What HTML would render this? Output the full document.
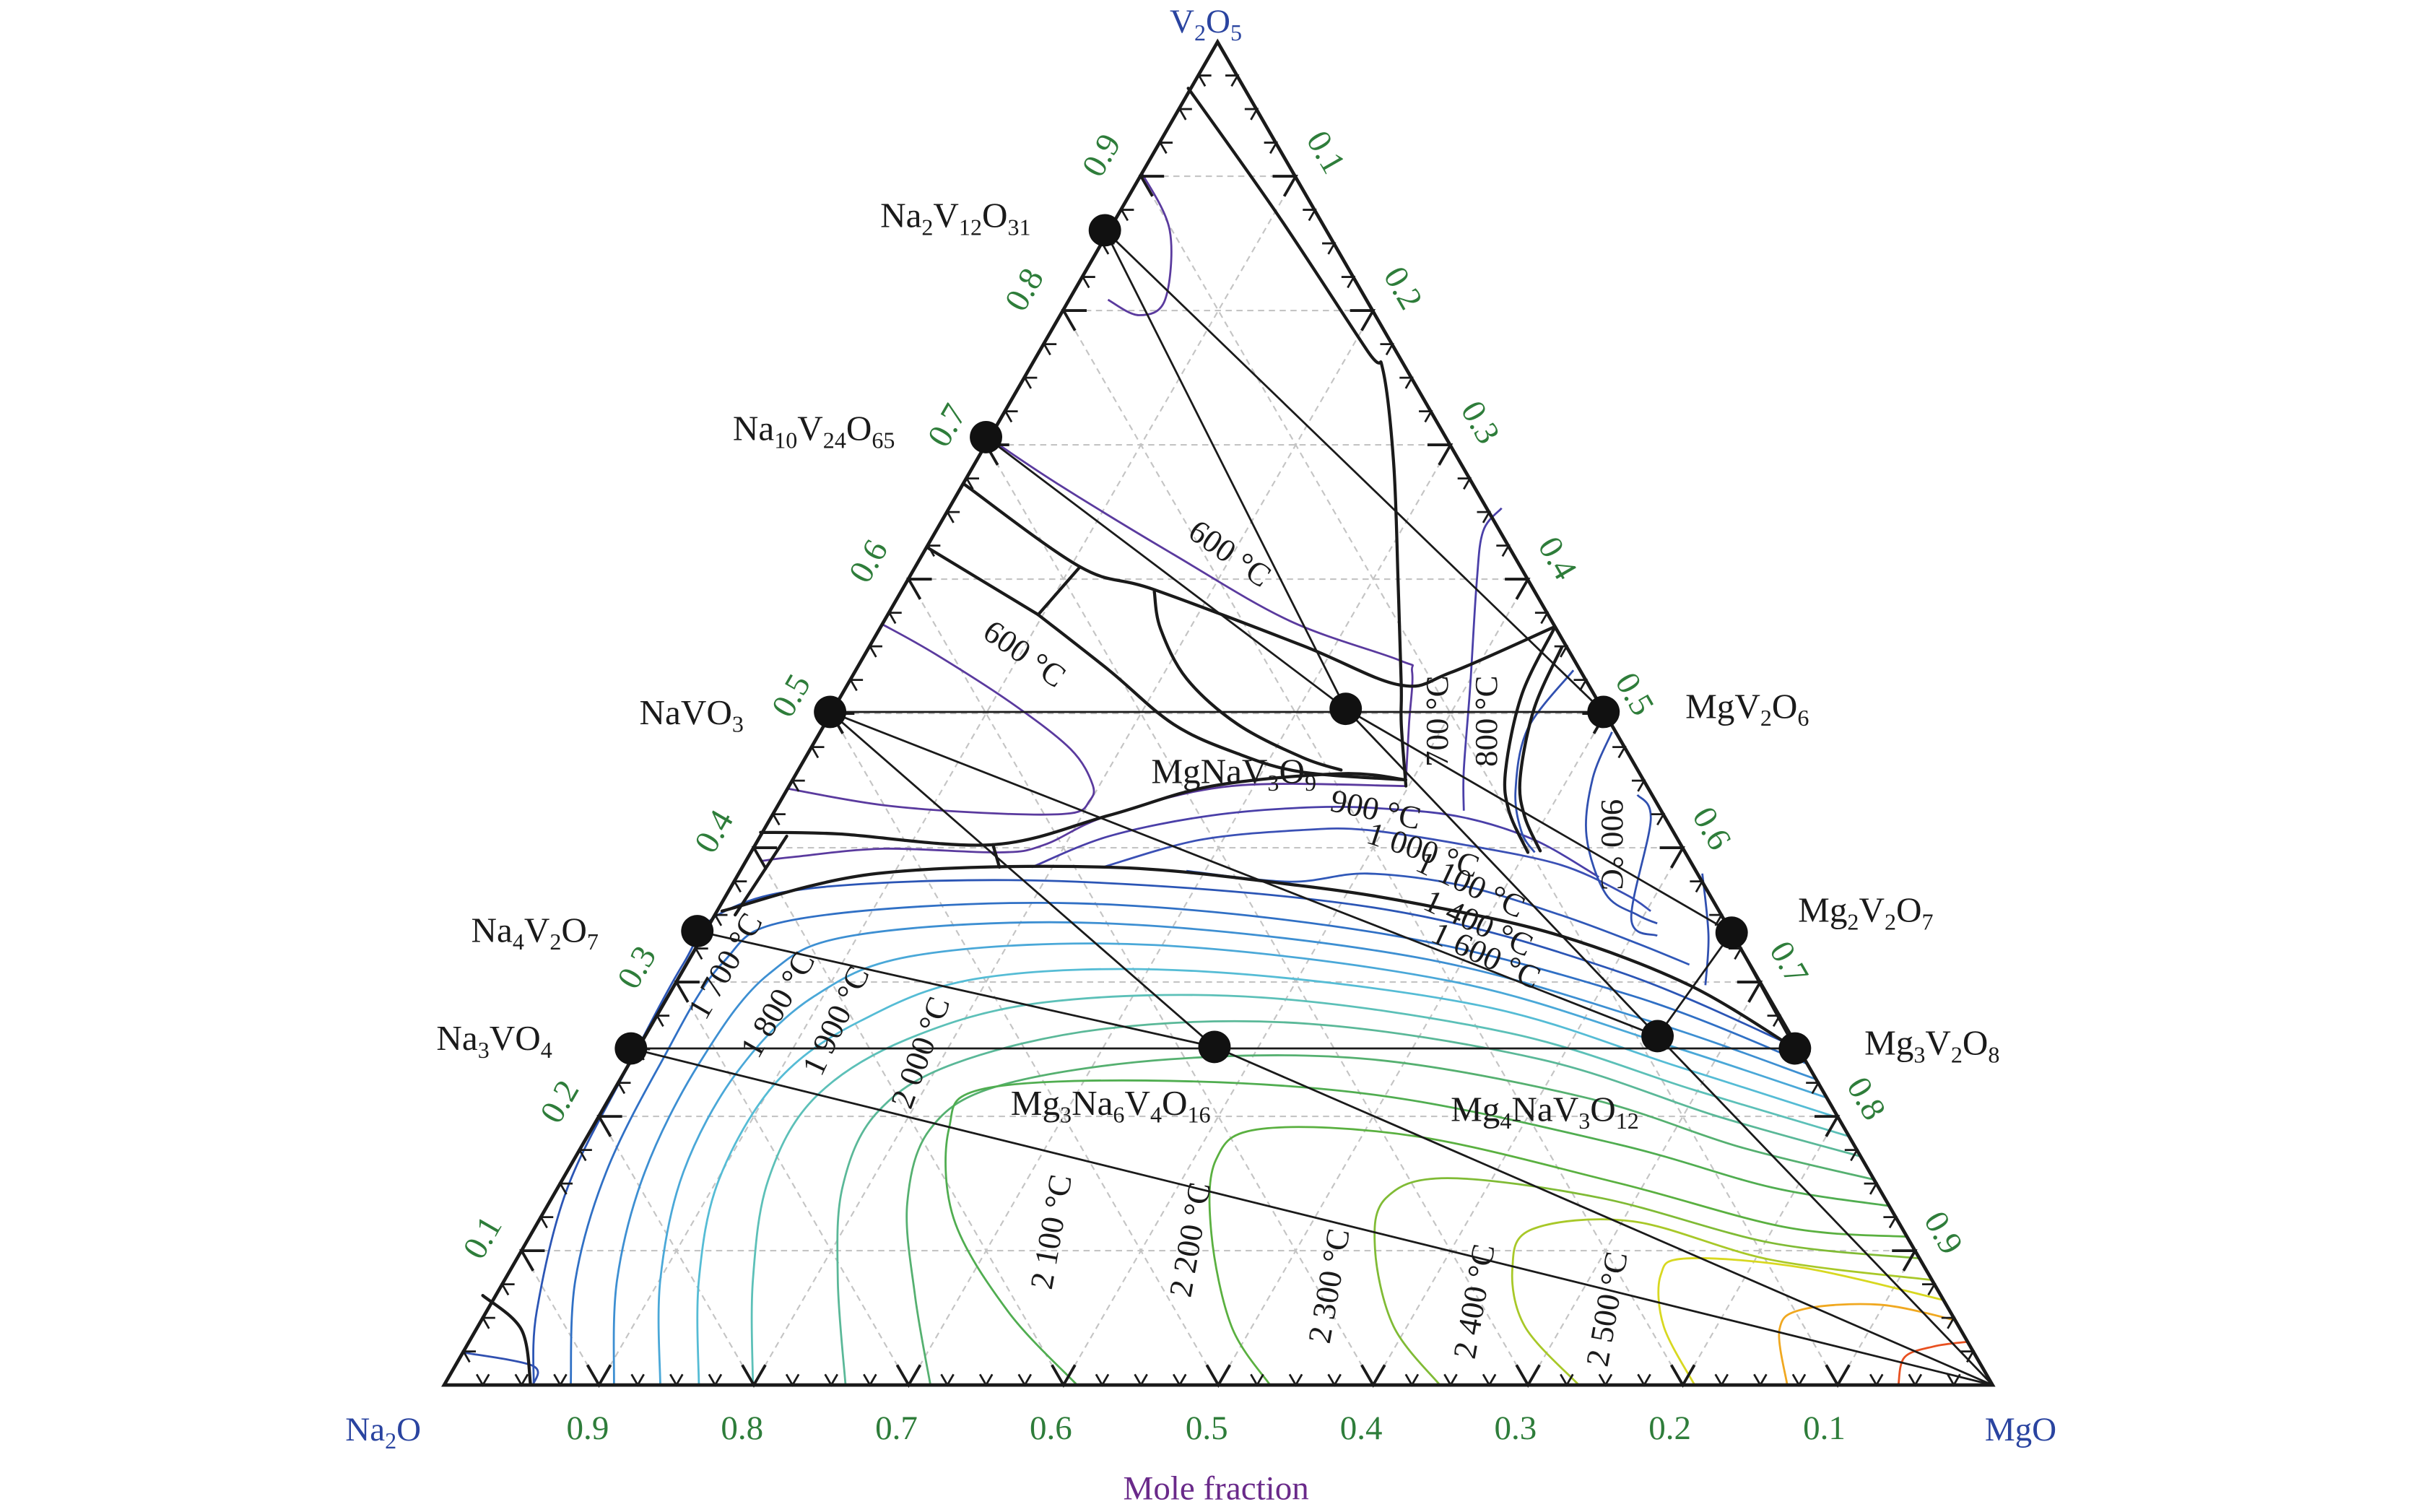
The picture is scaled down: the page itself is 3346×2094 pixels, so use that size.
<!DOCTYPE html>
<html><head><meta charset="utf-8">
<style>
html,body{margin:0;padding:0;background:#fff;}
svg{display:block;}
text{font-family:"Liberation Serif",serif;}
</style></head>
<body>
<svg id="s" width="3346" height="2094" viewBox="0 0 3346 2094" xmlns="http://www.w3.org/2000/svg">
<rect width="3346" height="2094" fill="#fff"/>
<g id="g" transform="translate(-4.9,-1.8) scale(2.138)">
<g id="grid"></g>
<g id="iso" fill="none" stroke-width="1.3"></g>
<g id="blk" fill="none" stroke="#1a1a1a" stroke-linecap="round" stroke-linejoin="round"></g>
<g id="ticks" stroke="#1a1a1a" stroke-width="1.5" fill="none"></g>
<polygon points="290,898 1293,898 791,28" fill="none" stroke="#1a1a1a" stroke-width="2.2" stroke-linejoin="miter"/>
<g id="dots" fill="#111"></g>

<g fill="#2a44a0" font-size="22">
<text x="760" y="22">V<tspan dy="5" font-size="15">2</tspan><tspan dy="-5">O</tspan><tspan dy="5" font-size="15">5</tspan></text>
<text x="226" y="934">Na<tspan dy="5" font-size="15">2</tspan><tspan dy="-5">O</tspan></text>
<text x="1288" y="934">MgO</text>
</g>
<text x="790" y="972" font-size="22" fill="#6a2a8a" text-anchor="middle">Mole fraction</text>

<g fill="#2e7d3a" font-size="22" text-anchor="middle" id="tl">
<text x="383" y="933">0.9</text><text x="483" y="933">0.8</text><text x="583" y="933">0.7</text>
<text x="683" y="933">0.6</text><text x="784" y="933">0.5</text><text x="884" y="933">0.4</text>
<text x="984" y="933">0.3</text><text x="1084" y="933">0.2</text><text x="1184" y="933">0.1</text>
<text transform="translate(722,105) rotate(-60)">0.9</text>
<text transform="translate(672,192) rotate(-60)">0.8</text>
<text transform="translate(622,280) rotate(-60)">0.7</text>
<text transform="translate(571,368) rotate(-60)">0.6</text>
<text transform="translate(521,455) rotate(-60)">0.5</text>
<text transform="translate(471,543) rotate(-60)">0.4</text>
<text transform="translate(421,631) rotate(-60)">0.3</text>
<text transform="translate(371,718) rotate(-60)">0.2</text>
<text transform="translate(321,806) rotate(-60)">0.1</text>
<text transform="translate(855,103) rotate(60)">0.1</text>
<text transform="translate(905,191) rotate(60)">0.2</text>
<text transform="translate(955,278) rotate(60)">0.3</text>
<text transform="translate(1005,366) rotate(60)">0.4</text>
<text transform="translate(1055,454) rotate(60)">0.5</text>
<text transform="translate(1105,541) rotate(60)">0.6</text>
<text transform="translate(1155,628) rotate(60)">0.7</text>
<text transform="translate(1205,716) rotate(60)">0.8</text>
<text transform="translate(1255,803) rotate(60)">0.9</text>
</g>

<g fill="#1a1a1a" font-size="23">
<text x="670" y="148" text-anchor="end">Na<tspan dy="5" font-size="15">2</tspan><tspan dy="-5">V</tspan><tspan dy="5" font-size="15">12</tspan><tspan dy="-5">O</tspan><tspan dy="5" font-size="15">31</tspan></text>
<text x="582" y="286" text-anchor="end">Na<tspan dy="5" font-size="15">10</tspan><tspan dy="-5">V</tspan><tspan dy="5" font-size="15">24</tspan><tspan dy="-5">O</tspan><tspan dy="5" font-size="15">65</tspan></text>
<text x="484" y="470" text-anchor="end">NaVO<tspan dy="5" font-size="15">3</tspan></text>
<text x="748" y="508">MgNaV<tspan dy="5" font-size="15">3</tspan><tspan dy="-5">O</tspan><tspan dy="5" font-size="15">9</tspan></text>
<text x="1094" y="466">MgV<tspan dy="5" font-size="15">2</tspan><tspan dy="-5">O</tspan><tspan dy="5" font-size="15">6</tspan></text>
<text x="1167" y="598">Mg<tspan dy="5" font-size="15">2</tspan><tspan dy="-5">V</tspan><tspan dy="5" font-size="15">2</tspan><tspan dy="-5">O</tspan><tspan dy="5" font-size="15">7</tspan></text>
<text x="390" y="611" text-anchor="end">Na<tspan dy="5" font-size="15">4</tspan><tspan dy="-5">V</tspan><tspan dy="5" font-size="15">2</tspan><tspan dy="-5">O</tspan><tspan dy="5" font-size="15">7</tspan></text>
<text x="360" y="681" text-anchor="end">Na<tspan dy="5" font-size="15">3</tspan><tspan dy="-5">VO</tspan><tspan dy="5" font-size="15">4</tspan></text>
<text x="657" y="723">Mg<tspan dy="5" font-size="15">3</tspan><tspan dy="-5">Na</tspan><tspan dy="5" font-size="15">6</tspan><tspan dy="-5">V</tspan><tspan dy="5" font-size="15">4</tspan><tspan dy="-5">O</tspan><tspan dy="5" font-size="15">16</tspan></text>
<text x="942" y="727">Mg<tspan dy="5" font-size="15">4</tspan><tspan dy="-5">NaV</tspan><tspan dy="5" font-size="15">3</tspan><tspan dy="-5">O</tspan><tspan dy="5" font-size="15">12</tspan></text>
<text x="1210" y="684">Mg<tspan dy="5" font-size="15">3</tspan><tspan dy="-5">V</tspan><tspan dy="5" font-size="15">2</tspan><tspan dy="-5">O</tspan><tspan dy="5" font-size="15">8</tspan></text>
</g>

<g fill="#1a1a1a" font-size="21" text-anchor="middle">
<text transform="translate(795,365) rotate(35)">600 °C</text>
<text transform="translate(662,430) rotate(35)">600 °C</text>
<text transform="translate(940,468) rotate(-90)">700 °C</text>
<text transform="translate(972,468) rotate(-90)">800 °C</text>
<text transform="translate(1040,548) rotate(90)">900 °C</text>
<text transform="translate(892,532) rotate(12)">900 °C</text>
<text transform="translate(922,558) rotate(18)">1 000 °C</text>
<text transform="translate(952,580) rotate(25)">1 100 °C</text>
<text transform="translate(957,605) rotate(25)">1 400 °C</text>
<text transform="translate(962,626) rotate(25)">1 600 °C</text>
<text transform="translate(478,630) rotate(-60)">1 700 °C</text>
<text transform="translate(512,655) rotate(-60)">1 800 °C</text>
<text transform="translate(550,665) rotate(-65)">1 900 °C</text>
<text transform="translate(605,685) rotate(-70)">2 000 °C</text>
<text transform="translate(690,800) rotate(-80)">2 100 °C</text>
<text transform="translate(780,805) rotate(-80)">2 200 °C</text>
<text transform="translate(870,835) rotate(-80)">2 300 °C</text>
<text transform="translate(964,845) rotate(-80)">2 400 °C</text>
<text transform="translate(1050,850) rotate(-80)">2 500 °C</text>
</g>
</g>
</svg>
<script>
var NS="http://www.w3.org/2000/svg";
function el(p,t,a){var e=document.createElementNS(NS,t);for(var k in a)e.setAttribute(k,a[k]);p.appendChild(e);return e;}
function P(v,m){return [290+1003*(m+v/2),898-870*v];}
function rx(y){return 1293-(898-y)*0.5759;}
function cr(pts){var d="M"+pts[0][0]+","+pts[0][1];for(var i=0;i<pts.length-1;i++){var p0=pts[i-1]||pts[i],p1=pts[i],p2=pts[i+1],p3=pts[i+2]||p2;
var c1=[p1[0]+(p2[0]-p0[0])/6,p1[1]+(p2[1]-p0[1])/6],c2=[p2[0]-(p3[0]-p1[0])/6,p2[1]-(p3[1]-p1[1])/6];
d+=" C"+c1[0].toFixed(1)+","+c1[1].toFixed(1)+" "+c2[0].toFixed(1)+","+c2[1].toFixed(1)+" "+p2[0].toFixed(1)+","+p2[1].toFixed(1);}return d;}
var grid=document.getElementById("grid");
for(var i=1;i<10;i++){var f=i/10;
 var a=P(f,0),b=P(f,1-f);el(grid,"line",{x1:a[0],y1:a[1],x2:b[0],y2:b[1],stroke:"#c4c4c4","stroke-width":1,"stroke-dasharray":"4,3"});
 a=P(0,f);b=P(1-f,f);el(grid,"line",{x1:a[0],y1:a[1],x2:b[0],y2:b[1],stroke:"#c4c4c4","stroke-width":1,"stroke-dasharray":"4,3"});
 a=P(0,1-f);b=P(1-f,0);el(grid,"line",{x1:a[0],y1:a[1],x2:b[0],y2:b[1],stroke:"#c4c4c4","stroke-width":1,"stroke-dasharray":"4,3"});}
var tk=document.getElementById("ticks");
var c60=0.5,s60=0.866;
for(var i=1;i<40;i++){var f=i/40,big=(i%4==0),L=big?15:8,sw=big?1.8:1.3;
 var p=P(0,f);
 el(tk,"path",{d:"M"+(p[0]-L*c60)+","+(p[1]-L*s60)+" L"+p[0]+","+p[1]+" L"+(p[0]+L*c60)+","+(p[1]-L*s60),"stroke-width":sw});
 p=P(f,0);
 el(tk,"path",{d:"M"+(p[0]+L)+","+p[1]+" L"+p[0]+","+p[1]+" L"+(p[0]+L*c60)+","+(p[1]+L*s60),"stroke-width":sw});
 p=P(f,1-f);
 el(tk,"path",{d:"M"+(p[0]-L)+","+p[1]+" L"+p[0]+","+p[1]+" L"+(p[0]-L*c60)+","+(p[1]+L*s60),"stroke-width":sw});}
var iso=document.getElementById("iso");
var fam=[
["#2b55b5",[[348,898],[350,850],[370,770],[410,690],[445,625],[470,592],[540,575],[700,572],[900,590],[1050,630],[0,680]]],
["#3070c5",[[372,898],[375,830],[395,760],[430,690],[470,625],[520,596],[700,586],[900,606],[1060,646],[0,690]]],
["#3d8fd2",[[400,898],[402,830],[420,760],[455,690],[500,632],[560,606],[720,599],[920,621],[1070,662],[0,700]]],
["#4aa8d8",[[430,898],[430,830],[445,760],[480,695],[530,646],[600,619],[750,613],[940,636],[1080,677],[0,712]]],
["#55bcd5",[[455,898],[455,830],[468,765],[505,702],[560,662],[640,634],[780,630],[960,652],[1090,692],[0,725]]],
["#5cc0b8",[[490,898],[490,830],[500,765],[530,712],[590,674],[680,650],[820,647],[980,670],[1100,707],[0,737]]],
["#5ab898",[[550,898],[545,830],[548,770],[570,722],[620,690],[720,667],[850,664],[1000,687],[1115,724],[0,750]]],
["#55b070",[[605,898],[595,840],[590,780],[605,732],[650,704],[760,687],[890,687],[1030,712],[1130,744],[0,765]]],
["#50ad50",[[700,898],[655,850],[620,790],[617,732],[640,706],[760,701],[900,711],[1050,742],[1150,770],[0,782]]],
["#5ab040",[[825,898],[800,860],[787,800],[790,752],[820,732],[920,737],[1050,767],[1160,796],[0,802]]],
["#80bb35",[[935,898],[905,860],[893,810],[900,777],[940,764],[1040,777],[1150,806],[0,816]]],
["#a8c828",[[1025,898],[990,860],[982,822],[995,797],[1060,792],[1150,817],[0,830]]],
["#d8d820",[[1100,898],[1080,860],[1078,827],[1095,816],[1170,822],[0,843]]],
["#f0a820",[[1160,898],[1155,862],[1170,849],[1220,846],[0,856]]],
["#e85020",[[1232,898],[1236,880],[1255,873],[0,870]]]];
fam.forEach(function(c){var pts=c[1];var l=pts[pts.length-1];l[0]=rx(l[1]);el(iso,"path",{d:cr(pts),stroke:c[0]});});
var up=[
["#5a3a9e",[[643.5,285],[687,314],[762.5,360],[837.7,403],[908.7,428.5],[917,436],[915,470],[912.9,507.6]]],
["#5a3a9e",[[574.5,405.6],[608,424.4],[658,456.6],[695.7,486],[710,509],[708,519.7],[695.7,527.7],[645.5,527.7],[574.5,522.4],[511.9,511.6]]],
["#5a3a9e",[[495,558.6],[516,556],[574.5,550.6],[649.7,553],[679,548],[720.7,529],[800,510],[913,510]]],
["#4a3fa8",[[670.6,562.6],[720.7,542.5],[787.5,529],[854.4,523.7],[904.5,525],[950.5,530.4],[996.4,545],[1038,569]]],
["#3a50b5",[[716.5,562.6],[779,545],[846,538.5],[888,538.5],[950.5,548],[1013,561],[1055,580],[1071.6,591]]],
["#3058b8",[[770.8,565],[837.7,572],[888,566.7],[950.5,574.7],[1013,593.5],[1063,612],[1096.6,625.7]]],
["#4a3fa8",[[975,330],[963,345],[958.8,378.8],[954.6,446],[950.5,499.6],[950.5,526]]],
["#3050b0",[[1021.5,435],[992,472.7],[984,513],[988,540],[996.4,553]]],
["#3050b0",[[1046.5,475],[1034,505],[1030,542.5],[1042.5,580],[1063,593.5],[1075.8,599]]],
["#3050b0",[[1063,515.7],[1071.6,532],[1059,596],[1075.8,607]]],
["#3050b0",[[1105,566.7],[1109,607],[1107,639]]],
["#5a3a9e",[[742,113],[760,150],[757,195],[740,205],[720,195]]],
["#3050b0",[[303,877],[347.5,885.6],[347.5,898]]]];
up.forEach(function(c){el(iso,"path",{d:cr(c[1]),stroke:c[0]});});
var blk=document.getElementById("blk");
var thin=[[[540,462],[1041,462]],[[411,680],[1165,680]],[[718,150],[874,460]],[[718,150],[1041,462]],[[641,284],[874,460]],
[[540,462],[789,679]],[[540,462],[1076,672]],[[874,460],[1076,672]],[[874,460],[1124,605]],[[454,604],[789,679]],
[[411,680],[1293,898]],[[789,679],[1293,898]],[[1076,672],[1293,898]],[[1124,605],[1076,672]],[[1124,605],[1165,680]]];
thin.forEach(function(l){el(blk,"line",{x1:l[0][0],y1:l[0][1],x2:l[1][0],y2:l[1][1],"stroke-width":1.3});});
var thick=[
[[772,58],[830,140],[888,228],[898,240],[905,300],[908,380],[910,445],[910,470],[913,510]],
[[626.7,314.4],[701.9,368],[750,382.8],[846,419],[908.7,444.5],[942,436.5],[1009,407]],
[[603.8,356],[674.8,399]],[[674.8,399],[701.9,368]],
[[674.8,399],[720.7,435],[762.5,470],[804,489],[846,501],[912.9,506]],
[[750,384],[754,408],[771,440.5],[804,470],[846,491.5],[871,499.6]],
[[495,540],[545.3,541],[645.5,548],[720.7,529],[787.5,510],[871,502],[912.9,506]],
[[645.5,548],[649.7,562.6]],[[511.9,542.5],[478.5,593.5]],
[[470,591],[570.3,566.7],[720.7,562.6],[846,574.7],[929.6,588],[1013,607],[1096.6,639],[1165,680]],
[[1009,408],[988,451],[977.6,499.6],[979.7,526],[992,553]],
[[1014,420],[996,460],[987,505],[990,530],[1000,552]],
[[315,840],[340,862],[346,898]]];
thick.forEach(function(p){el(blk,"path",{d:cr(p),"stroke-width":2});});
var dots=document.getElementById("dots");
[[718,150],[641,284],[540,462],[874,460],[1041,462],[1124,605],[454,604],[411,680],[789,679],[1076,672],[1165,680]].forEach(function(p){el(dots,"circle",{cx:p[0],cy:p[1],r:10.5});});
</script>
</body></html>
